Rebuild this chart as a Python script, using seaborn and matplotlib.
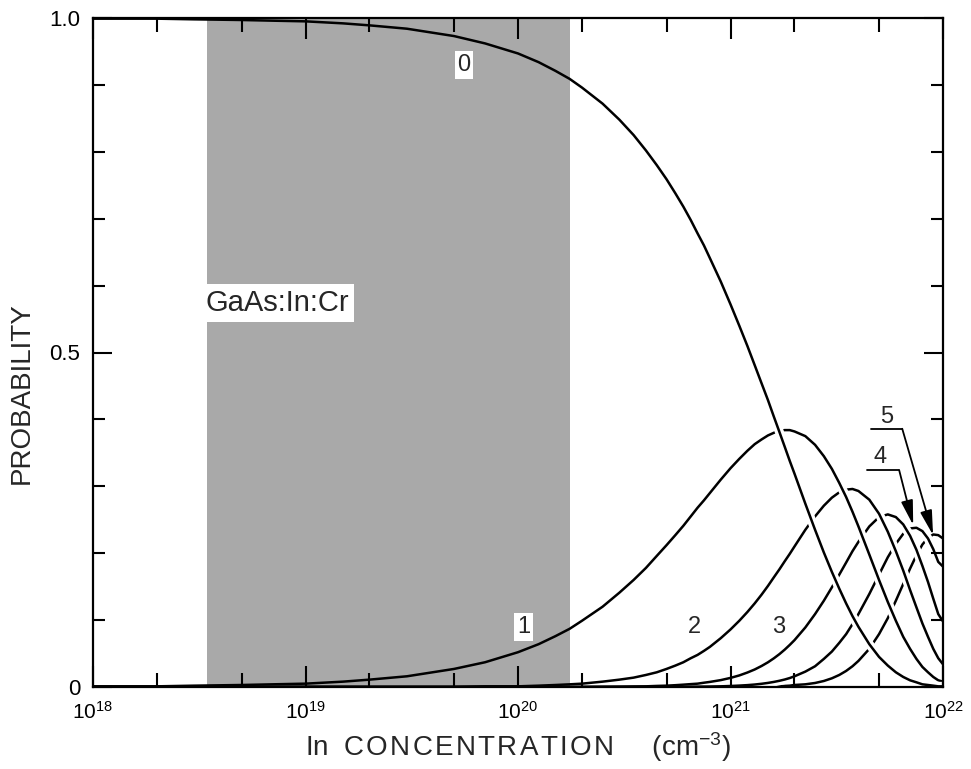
import matplotlib
matplotlib.use("Agg")
import numpy as np
import pandas as pd
import seaborn as sns
import matplotlib.pyplot as plt
from matplotlib.ticker import LogLocator, NullFormatter, MultipleLocator

# ---------------- data ----------------
conc = [1e18, 1.5e18, 2e18, 3e18, 5e18, 7e18, 1e19, 1.5e19, 2e19, 3e19, 5e19, 7e19,
        1e20, 1.25e20, 1.5e20, 1.75e20, 2e20, 2.5e20, 3e20, 3.5e20, 4e20, 4.5e20,
        5e20, 5.5e20, 6e20, 6.5e20, 7e20, 7.5e20, 8e20, 9e20,
        1e21, 1.1e21, 1.2e21, 1.3e21, 1.4e21, 1.5e21, 1.6e21, 1.7e21, 1.8e21, 1.9e21,
        2e21, 2.25e21, 2.5e21, 2.75e21, 3e21, 3.25e21, 3.5e21, 3.75e21, 4e21, 4.5e21,
        5e21, 5.5e21, 6e21, 6.5e21, 7e21, 7.5e21, 8e21, 8.5e21, 9e21, 9.5e21, 1e22]

p0 = [0.999, 0.999, 0.999, 0.998, 0.997, 0.996, 0.995, 0.992, 0.989, 0.984, 0.973, 0.962,
      0.947, 0.934, 0.921, 0.909, 0.896, 0.872, 0.848, 0.825, 0.802, 0.780,
      0.759, 0.738, 0.718, 0.698, 0.678, 0.660, 0.641, 0.606,
      0.572, 0.540, 0.510, 0.481, 0.454, 0.429, 0.404, 0.381, 0.359, 0.338,
      0.319, 0.274, 0.235, 0.201, 0.172, 0.147, 0.125, 0.106, 0.090, 0.064,
      0.045, 0.032, 0.022, 0.015, 0.010, 0.007, 0.004, 0.003, 0.002, 0.001, 0.001]

p1 = [0.001, 0.001, 0.001, 0.002, 0.003, 0.004, 0.005, 0.008, 0.011, 0.016, 0.027, 0.037,
      0.052, 0.064, 0.076, 0.087, 0.099, 0.120, 0.141, 0.160, 0.178, 0.196,
      0.212, 0.227, 0.241, 0.255, 0.268, 0.279, 0.290, 0.310,
      0.327, 0.341, 0.353, 0.363, 0.370, 0.376, 0.380, 0.383, 0.384, 0.384,
      0.382, 0.375, 0.362, 0.345, 0.326, 0.305, 0.284, 0.262, 0.240, 0.198,
      0.160, 0.127, 0.099, 0.075, 0.057, 0.042, 0.030, 0.022, 0.015, 0.010, 0.008]

p2 = [0.0, 0.0, 0.0, 0.0, 0.0, 0.0, 0.0, 0.0, 0.0, 0.0, 0.0, 0.001,
      0.001, 0.002, 0.003, 0.004, 0.005, 0.008, 0.011, 0.014, 0.018, 0.022,
      0.027, 0.032, 0.037, 0.043, 0.048, 0.054, 0.060, 0.073,
      0.086, 0.099, 0.112, 0.125, 0.138, 0.151, 0.164, 0.176, 0.188, 0.199,
      0.210, 0.235, 0.255, 0.271, 0.283, 0.291, 0.295, 0.296, 0.293, 0.280,
      0.259, 0.232, 0.203, 0.174, 0.145, 0.119, 0.095, 0.075, 0.057, 0.043, 0.034]

p3 = [0.0, 0.0, 0.0, 0.0, 0.0, 0.0, 0.0, 0.0, 0.0, 0.0, 0.0, 0.0,
      0.0, 0.0, 0.0, 0.0, 0.0, 0.0003, 0.0005, 0.0008, 0.001, 0.0016,
      0.002, 0.0027, 0.0035, 0.0043, 0.005, 0.0064, 0.0076, 0.0103,
      0.0136, 0.0173, 0.0216, 0.0262, 0.0314, 0.0369, 0.0429, 0.0492, 0.0559, 0.0629,
      0.070, 0.089, 0.109, 0.129, 0.149, 0.168, 0.186, 0.203, 0.217, 0.240,
      0.254, 0.258, 0.254, 0.243, 0.226, 0.205, 0.181, 0.157, 0.132, 0.109, 0.098]

p4 = [0.0, 0.0, 0.0, 0.0, 0.0, 0.0, 0.0, 0.0, 0.0, 0.0, 0.0, 0.0,
      0.0, 0.0, 0.0, 0.0, 0.0, 0.0, 0.0, 0.0, 0.0, 0.0,
      0.0, 0.0, 0.0, 0.0003, 0.0004, 0.0005, 0.0006, 0.001,
      0.0015, 0.0021, 0.0028, 0.0037, 0.0048, 0.0061, 0.0076, 0.0093, 0.0112, 0.0134,
      0.016, 0.023, 0.031, 0.042, 0.053, 0.066, 0.079, 0.094, 0.109, 0.139,
      0.168, 0.194, 0.214, 0.229, 0.237, 0.238, 0.233, 0.222, 0.206, 0.187, 0.180]

p5 = [0.0, 0.0, 0.0, 0.0, 0.0, 0.0, 0.0, 0.0, 0.0, 0.0, 0.0, 0.0,
      0.0, 0.0, 0.0, 0.0, 0.0, 0.0, 0.0, 0.0, 0.0, 0.0,
      0.0, 0.0, 0.0, 0.0, 0.0, 0.0, 0.0, 0.0,
      0.0, 0.0002, 0.0003, 0.0004, 0.0005, 0.0007, 0.001, 0.0012, 0.0016, 0.002,
      0.003, 0.004, 0.006, 0.009, 0.013, 0.018, 0.024, 0.031, 0.039, 0.057,
      0.079, 0.103, 0.129, 0.154, 0.177, 0.197, 0.213, 0.223, 0.228, 0.227, 0.222]

curves = {"0": p0, "1": p1, "2": p2, "3": p3, "4": p4, "5": p5}

shade_range = [3.45e18, 1.75e20]
xtick_vals = [1e18, 1e19, 1e20, 1e21, 1e22]
xtick_labels = [r"$10^{18}$", r"$10^{19}$", r"$10^{20}$", r"$10^{21}$", r"$10^{22}$"]
ytick_vals = [0.0, 0.5, 1.0]
ytick_labels = ["0", "0.5", "1.0"]

# ---------------- style ----------------
sns.set_style("ticks")
plt.rcParams["font.family"] = ["Liberation Sans", "DejaVu Sans"]
plt.rcParams["mathtext.fontset"] = "custom"
plt.rcParams["mathtext.rm"] = "Liberation Sans"
plt.rcParams["mathtext.it"] = "Liberation Sans:italic"
plt.rcParams["mathtext.default"] = "regular"

df = pd.DataFrame({"conc": conc, **{f"p{k}": v for k, v in curves.items()}})
seg = df[df["conc"] >= 1.2e21]

fig = plt.figure(figsize=(9.71, 7.69), dpi=100)
ax = fig.add_axes([93 / 971, 82 / 769, 850 / 971, 669 / 769])

ax.axvspan(shade_range[0], shade_range[1], facecolor="#a9a9a9", edgecolor="none", zorder=1)

# higher-order curves first; each lower-order curve cuts a small white gap
# into the curves beneath it where they cross (as in the original drawing)
for k in ["5", "4", "3", "2", "1", "0"]:
    sns.lineplot(data=seg, x="conc", y=f"p{k}", ax=ax, color="white", lw=6.5,
                 estimator=None, errorbar=None, legend=False)
    sns.lineplot(data=df, x="conc", y=f"p{k}", ax=ax, color="black", lw=1.8,
                 estimator=None, errorbar=None, legend=False)

ax.set_xscale("log")
ax.set_xlim(1e18, 1e22)
ax.set_ylim(0, 1)
ax.set_axisbelow(False)

ax.set_xticks(xtick_vals, labels=xtick_labels)
ax.xaxis.set_minor_locator(LogLocator(base=10, subs=(2.0, 5.0)))
ax.xaxis.set_minor_formatter(NullFormatter())
ax.set_yticks(ytick_vals, labels=ytick_labels)
ax.yaxis.set_minor_locator(MultipleLocator(0.1))

ax.tick_params(which="both", direction="in", top=True, right=True, width=1.5, colors="black")
ax.tick_params(axis="x", which="major", length=15, labelsize=15, pad=10)
ax.tick_params(axis="x", which="minor", length=10)
ax.tick_params(axis="y", which="major", length=14, labelsize=16, pad=9)
ax.tick_params(axis="y", which="minor", length=8.5)
for s in ax.spines.values():
    s.set_linewidth(1.6)
    s.set_color("black")
    s.set_visible(True)

ax.set_ylabel("PROBABILITY", fontsize=20)
ax.yaxis.set_label_coords(-0.068, 0.44)
xlab = "In  " + "\u200a".join("CONCENTRATION") + "     (cm$^{-3}$)"
ax.set_xlabel(xlab, fontsize=20)
ax.xaxis.set_label_coords(0.5, -0.064)

box = dict(facecolor="white", edgecolor="none", boxstyle="square,pad=0.12")
ax.text(5.57e19, 0.930, "0", fontsize=17, ha="center", va="center", bbox=box, zorder=4)
ax.text(1.06e20, 0.0897, "1", fontsize=17, ha="center", va="center", bbox=box, zorder=4)
ax.text(6.73e20, 0.0897, "2", fontsize=17, ha="center", va="center", zorder=4)
ax.text(1.68e21, 0.0897, "3", fontsize=17, ha="center", va="center", zorder=4)
ax.text(7.35e18, 0.574, "GaAs:In:Cr", fontsize=21, ha="center", va="center",
        bbox=dict(facecolor="white", edgecolor="none", boxstyle="square,pad=0.18"), zorder=4)
ax.text(5.45e21, 0.404, "5", fontsize=17, ha="center", va="center", zorder=4)
ax.text(5.06e21, 0.344, "4", fontsize=17, ha="center", va="center", zorder=4)

arrow = dict(arrowstyle="-|>,head_length=0.75,head_width=0.18", color="black", lw=1.3,
             mutation_scale=20, shrinkA=0, shrinkB=0)
ax.plot([4.56e21, 6.43e21], [0.386, 0.386], color="black", lw=1.3, zorder=4)
ax.annotate("", xy=(8.98e21, 0.227), xytext=(6.43e21, 0.386), arrowprops=arrow, zorder=4)
ax.plot([4.37e21, 6.22e21], [0.324, 0.324], color="black", lw=1.3, zorder=4)
ax.annotate("", xy=(7.24e21, 0.242), xytext=(6.22e21, 0.324), arrowprops=arrow, zorder=4)

fig.savefig("out.png", dpi=100, facecolor="white")
